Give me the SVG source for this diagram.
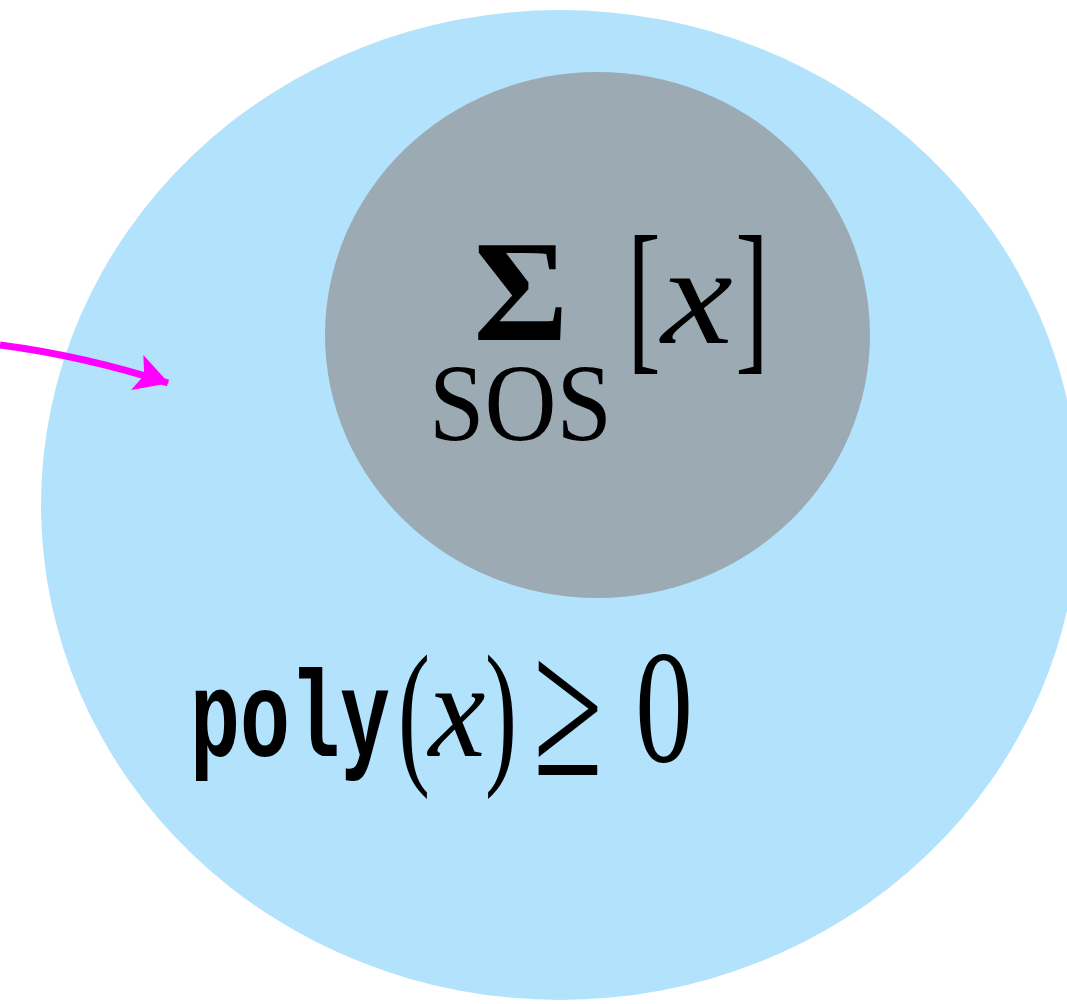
<svg xmlns="http://www.w3.org/2000/svg" width="1067" height="1004" viewBox="0 0 1067 1004">
<style>
.serif{font-family:'Liberation Serif', 'Times New Roman', serif;fill:#000}
.mono{font-family:'Liberation Mono', 'Courier New', monospace;font-weight:bold;fill:#000}
</style>
<defs>
<marker id="stealth" markerUnits="userSpaceOnUse" markerWidth="50" markerHeight="50" refX="0" refY="0" viewBox="-40 -25 50 50" orient="auto">
<path d="M1,0 L-32,-19 L-25,0 L-33,18 Z" fill="#ff00ff"/>
</marker>
</defs>
<rect width="1067" height="1004" fill="#ffffff"/>
<g id="poly-set">
<ellipse cx="560" cy="505" rx="519" ry="495" fill="#b3e2fd"/>
<text class="mono" x="190" y="756" font-size="122" textLength="200" lengthAdjust="spacingAndGlyphs">poly</text>
<text class="serif" font-size="155" text-anchor="middle" transform="translate(414,765) scale(0.62,1.02)">(</text>
<text class="serif" font-size="135" font-style="italic" text-anchor="middle" transform="translate(457,756) scale(0.95,1)">x</text>
<text class="serif" font-size="155" text-anchor="middle" transform="translate(501,765) scale(0.62,1.02)">)</text>
<text class="serif" font-size="150" text-anchor="middle" transform="translate(568,775) scale(0.84,1.33)">≥</text>
<text class="serif" font-size="160" text-anchor="middle" transform="translate(664,761) scale(0.72,1)">0</text>
</g>
<g id="sos-set">
<ellipse cx="597.5" cy="335" rx="272.5" ry="263" fill="#9cabb3"/>
<text class="serif" x="521" y="340" font-size="145" font-weight="bold" text-anchor="middle">Σ</text>
<text class="serif" x="429" y="440" font-size="110" textLength="183" lengthAdjust="spacingAndGlyphs">SOS</text>
<text class="serif" font-size="168" text-anchor="middle" transform="translate(644,352) scale(0.6,1)">[</text>
<text class="serif" font-size="140" font-style="italic" text-anchor="middle" transform="translate(697,343) scale(1.15,1)">x</text>
<text class="serif" font-size="168" text-anchor="middle" transform="translate(752,352) scale(0.6,1)">]</text>
</g>
<g id="connectors">
<path d="M0,345 Q84,356 168,383" fill="none" stroke="#ff00ff" stroke-width="7" marker-end="url(#stealth)"/>
</g>
</svg>
